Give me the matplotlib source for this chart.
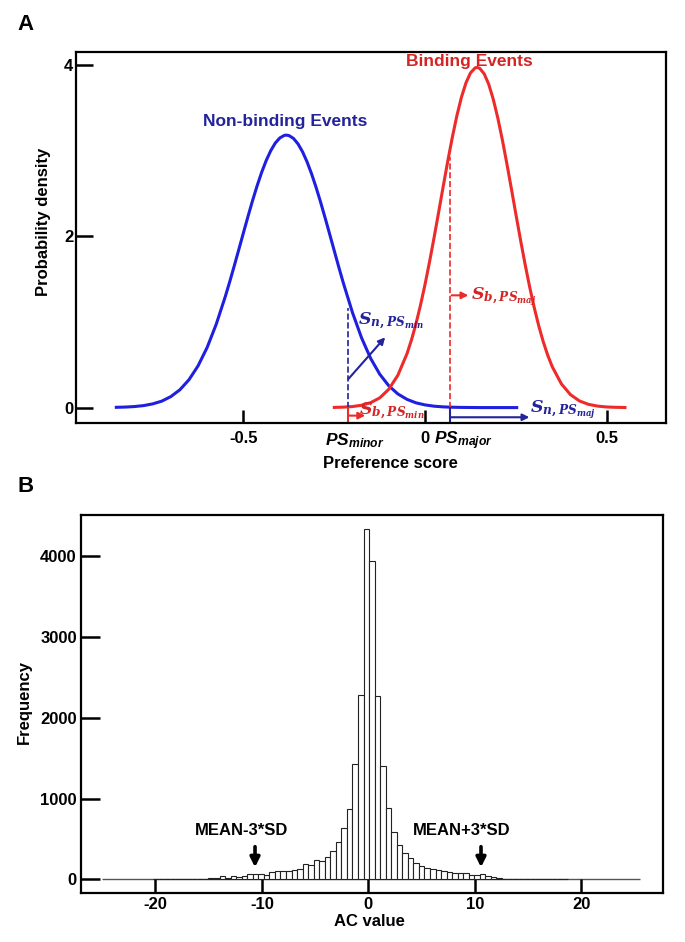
import numpy as np
import matplotlib.pyplot as plt

plt.rcParams['font.family'] = ['Liberation Sans', 'DejaVu Sans']
plt.rcParams['font.weight'] = 'bold'
plt.rcParams['axes.unicode_minus'] = False
plt.rcParams['mathtext.fontset'] = 'custom'
plt.rcParams['mathtext.it'] = 'DejaVu Serif:italic:bold'
plt.rcParams['mathtext.rm'] = 'DejaVu Serif:bold'
plt.rcParams['mathtext.bf'] = 'DejaVu Serif:bold'
plt.rcParams['mathtext.sf'] = 'Liberation Sans:italic:bold'

# --- panel A: preference score densities ---
nb_x = [-0.85, -0.825, -0.8, -0.775, -0.75, -0.725, -0.7, -0.675, -0.65, -0.625,
        -0.6, -0.575, -0.55, -0.5375, -0.525, -0.5125, -0.5, -0.4875, -0.475, -0.4625,
        -0.45, -0.4375, -0.425, -0.4125, -0.4, -0.3875, -0.382, -0.375, -0.3625, -0.35,
        -0.3375, -0.325, -0.3125, -0.3, -0.2875, -0.275, -0.2625, -0.25, -0.2375, -0.225,
        -0.2, -0.175, -0.15, -0.125, -0.1, -0.075, -0.05, -0.025, 0.0, 0.025,
        0.05, 0.075, 0.1, 0.15, 0.252]
nb_y = [0.003, 0.006, 0.012, 0.023, 0.043, 0.075, 0.128, 0.208, 0.325, 0.487,
        0.702, 0.973, 1.297, 1.474, 1.660, 1.850, 2.042, 2.232, 2.416, 2.588,
        2.745, 2.883, 2.998, 3.087, 3.147, 3.177, 3.180, 3.175, 3.142, 3.078,
        2.986, 2.868, 2.727, 2.568, 2.394, 2.210, 2.020, 1.828, 1.637, 1.452,
        1.109, 0.814, 0.574, 0.390, 0.254, 0.159, 0.096, 0.055, 0.031, 0.016,
        0.008, 0.004, 0.002, 0.0, 0.0]

b_x = [-0.25, -0.225, -0.2, -0.175, -0.15, -0.125, -0.1, -0.075, -0.05, -0.0375,
       -0.025, -0.0125, 0.0, 0.0125, 0.025, 0.0375, 0.05, 0.0625, 0.075, 0.0875,
       0.1, 0.1125, 0.125, 0.1375, 0.143, 0.15, 0.1625, 0.175, 0.1875, 0.2,
       0.2125, 0.225, 0.2375, 0.25, 0.2625, 0.275, 0.2875, 0.3, 0.3125, 0.325,
       0.3375, 0.35, 0.375, 0.4, 0.425, 0.45, 0.475, 0.5, 0.525, 0.55]
b_y = [0.002, 0.005, 0.012, 0.027, 0.057, 0.113, 0.214, 0.378, 0.628, 0.791,
       0.982, 1.200, 1.443, 1.709, 1.993, 2.288, 2.587, 2.881, 3.158, 3.409,
       3.623, 3.791, 3.907, 3.964, 3.970, 3.960, 3.896, 3.774, 3.599, 3.380,
       3.126, 2.846, 2.552, 2.252, 1.958, 1.676, 1.412, 1.172, 0.958, 0.770,
       0.610, 0.476, 0.277, 0.151, 0.077, 0.037, 0.017, 0.007, 0.003, 0.001]

ps_minor = -0.211
ps_major = 0.069

# --- panel B: AC value histogram ---
bin_start = -20.21
bin_width = 0.52
ac_counts = [4, 6, 6, 5, 0, 0, 3, 5, 6, 8,
             14, 22, 35, 20, 38, 30, 45, 60, 62, 60,
             55, 90, 100, 102, 105, 120, 130, 190, 175, 245,
             230, 280, 350, 465, 635, 865, 1432, 2285,
             4340, 3945, 2270, 1405, 885, 590, 420, 320, 260, 205,
             165, 140, 125, 112, 100, 90, 82, 75, 72, 55,
             52, 68, 45, 32, 20, 8, 5, 4, 4, 3,
             3, 3, 2, 0, 0, 6, 0]
baseline_range = (-25, 25.5)
mean_minus_3sd = -10.64
mean_plus_3sd = 10.58

BLUE = '#1f1fe0'
NAVY = '#23239c'
RED = '#ee2b2b'
DRED = '#d42424'


def fx(px):
    return px / 685


def fy(py):
    return 1 - py / 942


fig = plt.figure(figsize=(6.85, 9.42), dpi=100)

# ---------------- Panel A ----------------
axA = fig.add_axes([76 / 685, fy(423), (666 - 76) / 685, (423 - 52) / 942])
axA.plot(nb_x, nb_y, color=BLUE, lw=2.2)
axA.plot(b_x, b_y, color=RED, lw=2.2)
axA.set_xlim(-0.961, 0.663)
axA.set_ylim(-0.18, 4.15)
ybot = -0.18

axA.plot([ps_minor, ps_minor], [0, 1.16], ls='--', color=NAVY, lw=1.2)
axA.plot([ps_minor, ps_minor], [ybot, 0], color=RED, lw=1.5)
axA.plot([ps_major, ps_major], [0, 2.92], ls='--', color=RED, lw=1.2)
axA.plot([ps_major, ps_major], [ybot, 0], color=NAVY, lw=1.5)

arrow_kw = dict(arrowstyle='-|>', lw=1.5, mutation_scale=10, shrinkA=0, shrinkB=0)
axA.annotate('', xy=(-0.165, -0.094), xytext=(ps_minor, -0.094),
             arrowprops=dict(color=RED, **arrow_kw))
axA.annotate('', xy=(0.287, -0.113), xytext=(ps_major, -0.113),
             arrowprops=dict(color=NAVY, **arrow_kw))
axA.annotate('', xy=(-0.110, 0.82), xytext=(ps_minor, 0.335),
             arrowprops=dict(color=NAVY, **arrow_kw))
axA.annotate('', xy=(0.119, 1.31), xytext=(0.073, 1.31),
             arrowprops=dict(color=RED, **arrow_kw))

axA.text(-0.184, 1.0, r'$S_{n,PS_{min}}$', color=NAVY, fontsize=12.5,
         ha='left', va='center')
axA.text(0.125, 1.30, r'$S_{b,PS_{maj}}$', color=DRED, fontsize=12.5,
         ha='left', va='center')
axA.text(-0.182, -0.045, r'$S_{b,PS_{min}}$', color=DRED, fontsize=12.5,
         ha='left', va='center')
axA.text(0.289, -0.02, r'$S_{n,PS_{maj}}$', color=NAVY, fontsize=12.5,
         ha='left', va='center')

axA.text(-0.385, 3.34, 'Non-binding Events', color=NAVY, fontsize=12.5,
         weight='bold', ha='center', va='center')
axA.text(0.123, 4.04, 'Binding Events', color=DRED, fontsize=12.5,
         weight='bold', ha='center', va='center')

axA.set_xticks([-0.5, 0, 0.5], labels=['-0.5', '0', '0.5'])
axA.set_yticks([0, 2, 4], labels=['0', '2', '4'])
axA.tick_params(axis='x', direction='in', length=9.5, width=1.8, labelsize=12, pad=6)
axA.tick_params(axis='y', direction='in', length=12, width=1.8, labelsize=12, pad=2)
for s in axA.spines.values():
    s.set_linewidth(1.6)

fig.text(fx(355), fy(441), r'$\mathsf{PS_{minor}}$', fontsize=12.5,
         ha='center', va='center')
fig.text(fx(463), fy(441), r'$\mathsf{PS_{major}}$', fontsize=12.5,
         ha='center', va='center')
fig.text(fx(390), fy(463), 'Preference score', fontsize=12, weight='bold',
         ha='center', va='center')
fig.text(fx(44), fy(222), 'Probability density', fontsize=12, weight='bold',
         ha='center', va='center', rotation=90)
fig.text(fx(26), fy(25), 'A', fontsize=16, weight='bold', ha='center', va='center')

# ---------------- Panel B ----------------
axB = fig.add_axes([81 / 685, fy(893), (663 - 81) / 685, (893 - 515) / 942])
lefts = bin_start + bin_width * np.arange(len(ac_counts))
axB.hlines(0, baseline_range[0], baseline_range[1], color='#555555', lw=1.0, zorder=1)
axB.bar(lefts, ac_counts, width=bin_width, align='edge', color='white',
        edgecolor='#222222', lw=0.8, zorder=2)
axB.set_xlim(-26.98, 27.67)
axB.set_ylim(-170, 4514)

axB.text(-11.9, 607, 'MEAN-3*SD', fontsize=12, weight='bold', ha='center', va='center')
axB.text(8.77, 607, 'MEAN+3*SD', fontsize=12, weight='bold', ha='center', va='center')
big_arrow = dict(arrowstyle='-|>', lw=2.6, color='black', mutation_scale=14,
                 shrinkA=0, shrinkB=0)
axB.annotate('', xy=(mean_minus_3sd, 149), xytext=(mean_minus_3sd, 404),
             arrowprops=big_arrow)
axB.annotate('', xy=(mean_plus_3sd, 149), xytext=(mean_plus_3sd, 404),
             arrowprops=big_arrow)

axB.set_xticks([-20, -10, 0, 10, 20])
axB.set_yticks([0, 1000, 2000, 3000, 4000])
axB.tick_params(axis='x', direction='in', length=10, width=1.8, labelsize=12, pad=3)
axB.tick_params(axis='y', direction='in', length=13.5, width=1.8, labelsize=12, pad=3)
for s in axB.spines.values():
    s.set_linewidth(1.6)

fig.text(fx(369), fy(922), 'AC value', fontsize=12, weight='bold',
         ha='center', va='center')
fig.text(fx(24), fy(702), 'Frequency', fontsize=12, weight='bold',
         ha='center', va='center', rotation=90)
fig.text(fx(26), fy(487), 'B', fontsize=16, weight='bold', ha='center', va='center')

fig.savefig('out.png', dpi=100)
